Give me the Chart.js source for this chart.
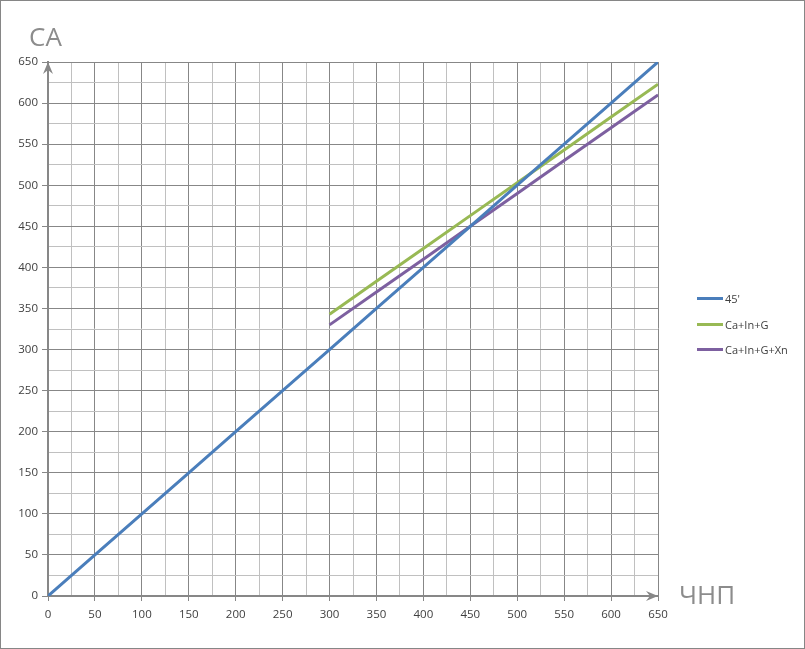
<!DOCTYPE html>
<html>
<head>
<meta charset="utf-8">
<script src="https://cdn.jsdelivr.net/npm/chart.js@4"></script>
<style>
  body { margin: 0; background: #fff; }
  #wrap { position: relative; width: 805px; height: 649px; }
  #legend { position: absolute; left: 697px; top: 286px; font: 11px "Open Sans", sans-serif; color: #404040; }
  #legend div { height: 25.5px; display: flex; align-items: center; }
  #legend span.sw { display: inline-block; width: 26px; height: 3px; margin-right: 2px; }
  .axTitle { position: absolute; font: 26px "Open Sans", sans-serif; color: #8c8c8c; line-height: 1; }
</style>
</head>
<body>
<div id="wrap">
  <canvas id="chart" width="805" height="649"></canvas>
  <div class="axTitle" style="left:29px; top:23px;">CA</div>
  <div class="axTitle" style="left:679px; top:581px;">ЧНП</div>
  <div id="legend"></div>
</div>
<script>
// данные графика
const xFull = [0, 50, 100, 150, 200, 250, 300, 350, 400, 450, 500, 550, 600, 650];
const line45 = [0, 50, 100, 150, 200, 250, 300, 350, 400, 450, 500, 550, 600, 650];
const xPart = [300, 350, 400, 450, 500, 550, 600, 650];
const caInG = [343, 383, 423, 463, 503, 543, 583, 623];
const caInGXn = [330, 370, 410, 450, 490, 530, 570, 610];
const seriesNames = ["45'", "Ca+In+G", "Ca+In+G+Xn"];
const seriesColors = ["#4a7ebb", "#98b954", "#7d60a0"];

function toPoints(xs, ys) {
    return xs.map(function (x, i) { return { x: x, y: ys[i] }; });
}

// стрелки на осях и рамка
const axisArrows = {
    id: "axisArrows",
    afterDraw: function (chart) {
        const ctx = chart.ctx;
        const sx = chart.scales.x, sy = chart.scales.y;
        const x0 = sx.getPixelForValue(0), x1 = sx.getPixelForValue(650);
        const y0 = sy.getPixelForValue(0), y1 = sy.getPixelForValue(650);
        ctx.save();
        ctx.fillStyle = "#878787";
        // вверх
        ctx.beginPath();
        ctx.moveTo(x0, y1);
        ctx.lineTo(x0 - 5, y1 + 12);
        ctx.lineTo(x0, y1 + 8);
        ctx.lineTo(x0 + 5, y1 + 12);
        ctx.closePath();
        ctx.fill();
        // вправо
        ctx.beginPath();
        ctx.moveTo(x1, y0);
        ctx.lineTo(x1 - 12, y0 - 5);
        ctx.lineTo(x1 - 8, y0);
        ctx.lineTo(x1 - 12, y0 + 5);
        ctx.closePath();
        ctx.fill();
        // рамка
        ctx.strokeStyle = "#868686";
        ctx.lineWidth = 1;
        ctx.strokeRect(0.5, 0.5, chart.width - 1, chart.height - 1);
        ctx.restore();
    }
};

function gridColor(c) {
    if (!c.tick) return "#bfbfbf";
    return c.tick.value % 50 === 0 ? "#878787" : "#c0c0c0";
}
function tickColor(c) {
    if (!c.tick) return "transparent";
    return c.tick.value % 50 === 0 ? "#878787" : "rgba(0,0,0,0)";
}
function majorLabel(v) {
    return v % 50 === 0 ? String(v) : "";
}

const datasets = [
    { label: seriesNames[0], data: toPoints(xFull, line45) },
    { label: seriesNames[1], data: toPoints(xPart, caInG) },
    { label: seriesNames[2], data: toPoints(xPart, caInGXn) }
].map(function (d, i) {
    d.borderColor = seriesColors[i];
    d.backgroundColor = seriesColors[i];
    d.borderWidth = 3;
    d.pointRadius = 0;
    d.fill = false;
    d.tension = 0;
    return d;
});

const chart = new Chart(document.getElementById("chart"), {
    type: "line",
    data: { datasets: datasets },
    options: {
        responsive: false,
        animation: false,
        devicePixelRatio: 1,
        layout: { padding: { left: 0, top: 62, right: 147, bottom: 0 } },
        plugins: { legend: { display: false }, tooltip: { enabled: false } },
        scales: {
            x: {
                type: "linear",
                min: 0, max: 650,
                afterFit: function (s) { s.height = 53; },
                ticks: {
                    stepSize: 25, autoSkip: false, maxRotation: 0, padding: 7,
                    color: "#404040", font: { family: "Open Sans", size: 11.5 },
                    callback: majorLabel
                },
                grid: { color: gridColor, tickColor: tickColor, tickLength: 5, lineWidth: 1 },
                border: { color: "#878787", width: 2 }
            },
            y: {
                type: "linear",
                min: 0, max: 650,
                afterFit: function (s) { s.width = 48; },
                ticks: {
                    stepSize: 25, autoSkip: false, padding: 4,
                    color: "#404040", font: { family: "Open Sans", size: 11.5 },
                    callback: majorLabel
                },
                grid: { color: gridColor, tickColor: tickColor, tickLength: 6, lineWidth: 1 },
                border: { color: "#878787", width: 2 }
            }
        }
    },
    plugins: [axisArrows]
});

// легенда справа
const legendBox = document.getElementById("legend");
chart.data.datasets.forEach(function (d) {
    const row = document.createElement("div");
    row.innerHTML = '<span class="sw" style="background:' + d.borderColor + '"></span>' + d.label;
    legendBox.appendChild(row);
});
</script>
</body>
</html>
